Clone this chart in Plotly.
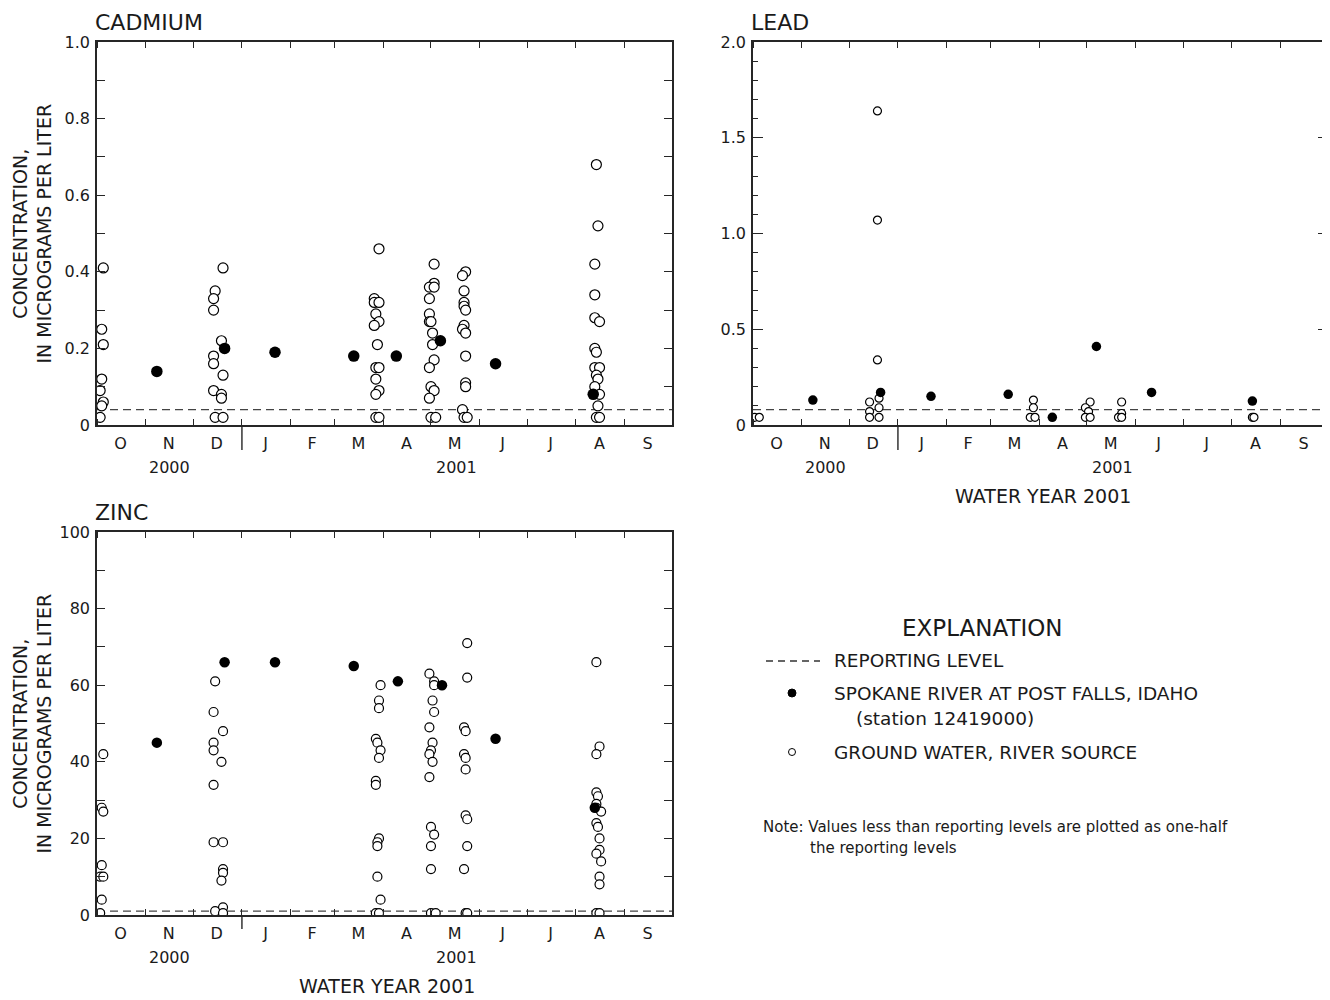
import plotly.graph_objects as go

FONT = "DejaVu Sans"
PAGE_OFFSET = 8          # default body margin of the html page
W, H = 1330 - PAGE_OFFSET, 1000 - PAGE_OFFSET

# ---------------- axis categories ----------------
month_starts = ["2000-10-01", "2000-11-01", "2000-12-01", "2001-01-01", "2001-02-01",
                "2001-03-01", "2001-04-01", "2001-05-01", "2001-06-01", "2001-07-01",
                "2001-08-01", "2001-09-01", "2001-10-01"]
month_mids = ["2000-10-16", "2000-11-15 12:00", "2000-12-16", "2001-01-16", "2001-02-14 12:00",
              "2001-03-16", "2001-04-15 12:00", "2001-05-16", "2001-06-15 12:00", "2001-07-16",
              "2001-08-16", "2001-09-15 12:00"]
month_letters = ["O", "N", "D", "J", "F", "M", "A", "M", "J", "J", "A", "S"]
year_labels = ["2000", "2001"]
year_label_dates = ["2000-11-16", "2001-05-17 12:00"]
water_year_label = "WATER YEAR 2001"
water_year_date = "2001-04-03"
calendar_break = "2001-01-01"

# ---------------- CADMIUM ----------------
cd_gw_dates = (["2000-10-05", "2000-10-04", "2000-10-05", "2000-10-04", "2000-10-03", "2000-10-05", "2000-10-04", "2000-10-03"]
               + ["2000-12-20", "2000-12-15", "2000-12-14", "2000-12-14", "2000-12-19", "2000-12-14", "2000-12-14",
                  "2000-12-20", "2000-12-14", "2000-12-19", "2000-12-19", "2000-12-15", "2000-12-20"]
               + ["2001-03-29", "2001-03-26", "2001-03-26", "2001-03-29", "2001-03-27", "2001-03-29", "2001-03-26",
                  "2001-03-28", "2001-03-27", "2001-03-29", "2001-03-27", "2001-03-29", "2001-03-27", "2001-03-27", "2001-03-29"]
               + ["2001-05-03", "2001-05-03", "2001-04-30", "2001-05-03", "2001-04-30", "2001-04-30", "2001-04-30",
                  "2001-05-01", "2001-05-02", "2001-05-02", "2001-05-03", "2001-04-30", "2001-05-01", "2001-05-03",
                  "2001-04-30", "2001-05-01", "2001-05-04"]
               + ["2001-05-23", "2001-05-21", "2001-05-22", "2001-05-22", "2001-05-22", "2001-05-23", "2001-05-22",
                  "2001-05-21", "2001-05-23", "2001-05-23", "2001-05-23", "2001-05-23", "2001-05-21", "2001-05-22", "2001-05-24"]
               + ["2001-08-14", "2001-08-15", "2001-08-13", "2001-08-13", "2001-08-13", "2001-08-16", "2001-08-13",
                  "2001-08-14", "2001-08-13", "2001-08-16", "2001-08-14", "2001-08-15", "2001-08-13", "2001-08-16",
                  "2001-08-15", "2001-08-14", "2001-08-16"])
cd_gw_vals = ([0.41, 0.25, 0.21, 0.12, 0.09, 0.06, 0.05, 0.02]
              + [0.41, 0.35, 0.33, 0.30, 0.22, 0.18, 0.16, 0.13, 0.09, 0.08, 0.07, 0.02, 0.02]
              + [0.46, 0.33, 0.32, 0.32, 0.29, 0.27, 0.26, 0.21, 0.15, 0.15, 0.12, 0.09, 0.08, 0.02, 0.02]
              + [0.42, 0.37, 0.36, 0.36, 0.33, 0.29, 0.27, 0.27, 0.24, 0.21, 0.17, 0.15, 0.10, 0.09, 0.07, 0.02, 0.02]
              + [0.40, 0.39, 0.35, 0.32, 0.31, 0.30, 0.26, 0.25, 0.24, 0.18, 0.11, 0.10, 0.04, 0.02, 0.02]
              + [0.68, 0.52, 0.42, 0.34, 0.28, 0.27, 0.20, 0.19, 0.15, 0.15, 0.13, 0.12, 0.10, 0.08, 0.05, 0.02, 0.02])
cd_sr_dates = ["2000-11-08", "2000-12-21", "2001-01-22", "2001-03-13", "2001-04-09", "2001-05-07", "2001-06-11", "2001-08-12"]
cd_sr_vals = [0.14, 0.20, 0.19, 0.18, 0.18, 0.22, 0.16, 0.08]
cd_reporting_level = 0.04
cd_ytickvals = [0, 0.1, 0.2, 0.3, 0.4, 0.5, 0.6, 0.7, 0.8, 0.9, 1.0]
cd_yticktext = ["0", "", "0.2", "", "0.4", "", "0.6", "", "0.8", "", "1.0"]

# ---------------- LEAD ----------------
pb_gw_dates = (["2000-10-02", "2000-10-05"]
               + ["2000-12-19", "2000-12-19", "2000-12-19", "2000-12-14", "2000-12-20", "2000-12-20", "2000-12-14",
                  "2000-12-14", "2000-12-20"]
               + ["2001-03-28", "2001-03-28", "2001-03-26", "2001-03-29"]
               + ["2001-05-03", "2001-04-30", "2001-05-02", "2001-04-30", "2001-05-03"]
               + ["2001-05-23", "2001-05-23", "2001-05-21", "2001-05-23"]
               + ["2001-08-14", "2001-08-15"])
pb_gw_vals = ([0.04, 0.04]
              + [1.64, 1.07, 0.34, 0.12, 0.14, 0.09, 0.07, 0.04, 0.04]
              + [0.13, 0.09, 0.04, 0.04]
              + [0.12, 0.09, 0.07, 0.04, 0.04]
              + [0.12, 0.06, 0.04, 0.04]
              + [0.04, 0.04])
pb_sr_dates = ["2000-11-08", "2000-12-21", "2001-01-22", "2001-03-12", "2001-04-09", "2001-05-07", "2001-06-11", "2001-08-14"]
pb_sr_vals = [0.13, 0.17, 0.15, 0.16, 0.04, 0.41, 0.17, 0.125]
pb_reporting_level = 0.08
pb_ytickvals = [0, 0.5, 1.0, 1.5, 2.0]
pb_yticktext = ["0", "0.5", "1.0", "1.5", "2.0"]

# ---------------- ZINC ----------------
zn_gw_dates = (["2000-10-05", "2000-10-04", "2000-10-05", "2000-10-04", "2000-10-03", "2000-10-05", "2000-10-04", "2000-10-03"]
               + ["2000-12-15", "2000-12-14", "2000-12-20", "2000-12-14", "2000-12-14", "2000-12-19", "2000-12-14",
                  "2000-12-14", "2000-12-20", "2000-12-20", "2000-12-20", "2000-12-19", "2000-12-20", "2000-12-15", "2000-12-20"]
               + ["2001-03-30", "2001-03-29", "2001-03-29", "2001-03-27", "2001-03-28", "2001-03-30", "2001-03-29",
                  "2001-03-27", "2001-03-27", "2001-03-29", "2001-03-28", "2001-03-28", "2001-03-28", "2001-03-30",
                  "2001-03-27", "2001-03-29"]
               + ["2001-04-30", "2001-05-03", "2001-05-03", "2001-05-02", "2001-05-03", "2001-04-30", "2001-05-02",
                  "2001-05-01", "2001-04-30", "2001-05-02", "2001-04-30", "2001-05-01", "2001-05-03", "2001-05-01",
                  "2001-05-01", "2001-05-01", "2001-05-04"]
               + ["2001-05-24", "2001-05-24", "2001-05-22", "2001-05-23", "2001-05-22", "2001-05-23", "2001-05-23",
                  "2001-05-23", "2001-05-24", "2001-05-24", "2001-05-22", "2001-05-23", "2001-05-24"]
               + ["2001-08-14", "2001-08-16", "2001-08-14", "2001-08-14", "2001-08-15", "2001-08-14", "2001-08-14",
                  "2001-08-17", "2001-08-14", "2001-08-15", "2001-08-16", "2001-08-16", "2001-08-14", "2001-08-17",
                  "2001-08-16", "2001-08-16", "2001-08-14", "2001-08-16"])
zn_gw_vals = ([42, 28, 27, 13, 10, 10, 4, 0.5]
              + [61, 53, 48, 45, 43, 40, 34, 19, 19, 12, 11, 9, 2, 1, 0.5]
              + [60, 56, 54, 46, 45, 43, 41, 35, 34, 20, 19, 18, 10, 4, 0.5, 0.5]
              + [63, 61, 60, 56, 53, 49, 45, 43, 42, 40, 36, 23, 21, 18, 12, 0.5, 0.5]
              + [71, 62, 49, 48, 42, 41, 38, 26, 25, 18, 12, 0.5, 0.5]
              + [66, 44, 42, 32, 31, 29, 28, 27, 24, 23, 20, 17, 16, 14, 10, 8, 0.5, 0.5])
zn_sr_dates = ["2000-11-08", "2000-12-21", "2001-01-22", "2001-03-13", "2001-04-10", "2001-05-08", "2001-06-11", "2001-08-13"]
zn_sr_vals = [45, 66, 66, 65, 61, 60, 46, 28]
zn_reporting_level = 1.0
zn_ytickvals = [0, 10, 20, 30, 40, 50, 60, 70, 80, 90, 100]
zn_yticktext = ["0", "", "20", "", "40", "", "60", "", "80", "", "100"]

panel_titles = ["CADMIUM", "LEAD", "ZINC"]
y_title = "CONCENTRATION,<br>IN MICROGRAMS PER LITER"
legend_title = "EXPLANATION"
legend_items = ["REPORTING LEVEL", "SPOKANE RIVER AT POST FALLS, IDAHO", "(station 12419000)",
                "GROUND WATER, RIVER SOURCE"]
note_lines = ["Note: Values less than reporting levels are plotted as one-half", "the reporting levels"]


def px(x):
    return (x - PAGE_OFFSET) / W


def py(y):
    return 1 - (y - PAGE_OFFSET) / H


LINE = "#262626"
fig = go.Figure()

panels = [
    dict(sfx="", xd=(97, 672), yd=(42, 425), gw=(cd_gw_dates, cd_gw_vals), sr=(cd_sr_dates, cd_sr_vals),
         rl=cd_reporting_level, yr=[0, 1.0], tv=cd_ytickvals, tt=cd_yticktext, osz=10, fsz=11.5, brk=25),
    dict(sfx="2", xd=(753, 1328), yd=(42, 425), gw=(pb_gw_dates, pb_gw_vals), sr=(pb_sr_dates, pb_sr_vals),
         rl=pb_reporting_level, yr=[0, 2.0], tv=pb_ytickvals, tt=pb_yticktext, osz=8, fsz=9.5, brk=25),
    dict(sfx="3", xd=(97, 672), yd=(532, 915), gw=(zn_gw_dates, zn_gw_vals), sr=(zn_sr_dates, zn_sr_vals),
         rl=zn_reporting_level, yr=[0, 100], tv=zn_ytickvals, tt=zn_yticktext, osz=9, fsz=10.5, brk=14),
]

shapes = []
annotations = []
for i, p in enumerate(panels):
    xa = "x" + p["sfx"]
    ya = "y" + p["sfx"]
    fig.add_trace(go.Scatter(x=p["gw"][0], y=p["gw"][1], mode="markers", xaxis=xa, yaxis=ya,
                             marker=dict(symbol="circle", size=p["osz"], color="white",
                                         line=dict(color="black", width=1.2)),
                             showlegend=False, hoverinfo="x+y"))
    fig.add_trace(go.Scatter(x=p["sr"][0], y=p["sr"][1], mode="markers", xaxis=xa, yaxis=ya,
                             marker=dict(symbol="circle", size=p["fsz"], color="black",
                                         line=dict(color="black", width=0)),
                             showlegend=False, hoverinfo="x+y"))
    xdom = [px(p["xd"][0]), px(p["xd"][1])]
    ydom = [py(p["yd"][1]), py(p["yd"][0])]
    xkey = "xaxis" + p["sfx"]
    ykey = "yaxis" + p["sfx"]
    xaxis = dict(domain=xdom, anchor=ya, type="date", range=[month_starts[0], month_starts[-1]],
                 tickmode="array", tickvals=month_mids, ticktext=month_letters, ticks="", ticklen=0,
                 showline=True, linecolor=LINE, linewidth=1.5, mirror="ticks", showgrid=False, zeroline=False,
                 automargin=False,
                 tickfont=dict(family=FONT, size=16, color="#1a1a1a"), ticklabelstandoff=3,
                 minor=dict(tickmode="array", tickvals=month_starts, ticks="inside", ticklen=6,
                            tickwidth=1.3, tickcolor=LINE, showgrid=False))
    common_y = dict(domain=ydom, anchor=xa, range=p["yr"], tickmode="array", tickvals=p["tv"], ticktext=p["tt"],
                    ticks="inside", tickwidth=1.3, tickcolor=LINE, automargin=False,
                    showline=True, linecolor=LINE, linewidth=1.5, mirror="ticks", showgrid=False, zeroline=False,
                    tickfont=dict(family=FONT, size=16, color="#1a1a1a"), ticklabelstandoff=2)
    if p["sfx"] == "2":
        yaxis = dict(common_y, ticklen=10,
                     minor=dict(dtick=0.1, ticks="inside", ticklen=5, tickwidth=1.3, tickcolor=LINE, showgrid=False))
    else:
        yaxis = dict(common_y, ticklen=8)
    fig.update_layout({xkey: xaxis, ykey: yaxis})

    # reporting level
    shapes.append(dict(type="line", xref=xa + " domain", x0=0, x1=1, yref=ya, y0=p["rl"], y1=p["rl"],
                       line=dict(color="#444", width=1.3, dash="8px,5px"), layer="below"))
    # calendar year break
    shapes.append(dict(type="line", xref=xa, x0=calendar_break, x1=calendar_break, yref=ya + " domain",
                       y0=0, y1=-p["brk"] / 383.0, line=dict(color=LINE, width=1.4)))
    # year labels
    for lab, d in zip(year_labels, year_label_dates):
        annotations.append(dict(text=lab, xref=xa, x=d, yref=ya + " domain", y=0, yshift=-42,
                                xanchor="center", yanchor="middle", showarrow=False,
                                font=dict(family=FONT, size=16, color="#1a1a1a")))
    if p["sfx"] in ("2", "3"):
        annotations.append(dict(text=water_year_label, xref=xa, x=water_year_date, yref=ya + " domain", y=0,
                                yshift=-71, xanchor="center", yanchor="middle", showarrow=False,
                                font=dict(family=FONT, size=19, color="#1a1a1a")))
    # panel title
    annotations.append(dict(text=panel_titles[i], xref="paper", x=px(p["xd"][0] - 4), yref="paper",
                            y=py(p["yd"][0] - 20), xanchor="left", yanchor="middle", showarrow=False,
                            font=dict(family=FONT, size=22, color="#1a1a1a")))
    if p["sfx"] in ("", "3"):
        annotations.append(dict(text=y_title, xref="paper", x=px(32), yref="paper",
                                y=py((p["yd"][0] + p["yd"][1]) / 2), xanchor="center", yanchor="middle",
                                textangle=-90, showarrow=False,
                                font=dict(family=FONT, size=19, color="#1a1a1a")))

# ---------------- explanation ----------------
annotations.append(dict(text=legend_title, xref="paper", yref="paper", x=px(982), y=py(628),
                        xanchor="center", yanchor="middle", showarrow=False,
                        font=dict(family=FONT, size=23, color="#1a1a1a")))
shapes.append(dict(type="line", xref="paper", yref="paper", x0=px(766), x1=px(820), y0=py(661), y1=py(661),
                   line=dict(color="#333", width=1.3, dash="7px,5px")))
shapes.append(dict(type="circle", xref="paper", yref="paper", x0=px(788), x1=px(796), y0=py(697), y1=py(689),
                   fillcolor="black", line=dict(color="black", width=1)))
shapes.append(dict(type="circle", xref="paper", yref="paper", x0=px(788.5), x1=px(795.5), y0=py(755.5),
                   y1=py(748.5), fillcolor="white", line=dict(color="black", width=1)))
leg_pos = [(832, 660), (832, 693), (854, 718), (832, 752)]
for t, (lx, ly) in zip(legend_items, leg_pos):
    annotations.append(dict(text=t, xref="paper", yref="paper", x=px(lx), y=py(ly), xanchor="left",
                            yanchor="middle", showarrow=False,
                            font=dict(family=FONT, size=18.5, color="#1a1a1a")))
for t, (lx, ly) in zip(note_lines, [(761, 827), (808, 848)]):
    annotations.append(dict(text=t, xref="paper", yref="paper", x=px(lx), y=py(ly), xanchor="left",
                            yanchor="middle", showarrow=False,
                            font=dict(family=FONT, size=15, color="#1a1a1a")))

fig.update_layout(width=W, height=H, margin=dict(l=0, r=0, t=0, b=0, autoexpand=False), plot_bgcolor="white",
                  paper_bgcolor="white", showlegend=False, shapes=shapes, annotations=annotations,
                  font=dict(family=FONT))
fig.write_html("out.html")
